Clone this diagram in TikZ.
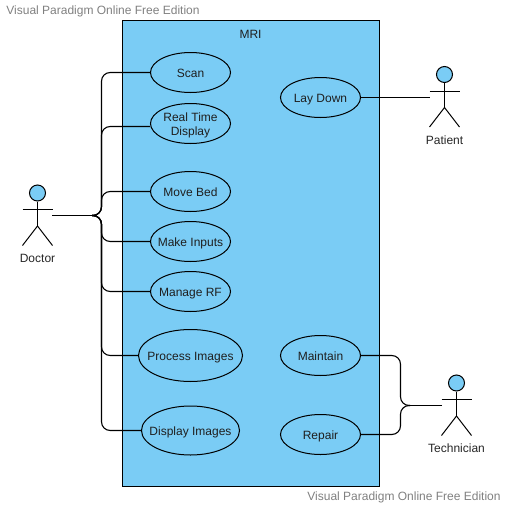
\documentclass[tikz,border=0pt]{standalone}
\usepackage{fontspec}
\setmainfont{Liberation Sans}
\usetikzlibrary{shapes.geometric}
\definecolor{skyfill}{HTML}{7ACCF5}
\definecolor{markgray}{HTML}{808080}
\newcommand{\uc}[1]{\raisebox{-3.6pt}[0pt][0pt]{\makebox[0pt][c]{#1}}}
\tikzset{
  usecase/.style={draw=black,fill=skyfill,ellipse,line width=0.75pt,inner sep=0pt,
    minimum width=80*0.75pt,minimum height=40*0.75pt,align=center,font=\fontsize{9}{10.9}\selectfont,text=black!88},
  bigcase/.style={usecase,minimum width=#1*0.75pt},
  system/.style={draw=black,fill=skyfill,line width=0.75pt},
  limb/.style={draw=black,line width=0.75pt},
  head/.style={circle,draw=black,fill=skyfill,line width=0.75pt,minimum size=16*0.75pt,inner sep=0pt},
  actorname/.style={font=\fontsize{9}{11}\selectfont,text=black!85,inner sep=0pt},
  watermark/.style={font=\fontsize{9}{11}\selectfont,text=markgray,inner sep=0pt},
  assoc/.style={draw=black,line width=0.85pt,rounded corners=6.5pt},
}
% name, x, head centre y, label y, label
\newcommand{\stickman}[5]{%
  \node[head] (#1) at (#2,#3) {};
  \coordinate (#1hip) at (#2,#3+33);
  \draw[limb] (#1.south) -- (#1hip);
  \draw[limb] (#2-15,#3+16.5) -- (#2+15,#3+16.5);
  \draw[limb] (#2-15,#3+52.5) -- (#1hip) -- (#2+15,#3+52.5);
  \node[actorname] (#1name) at (#2,#4) {#5};
}
\begin{document}
\begin{tikzpicture}[x=0.75pt,y=-0.75pt]
\useasboundingbox (0,0) rectangle (506,507);
\node[system,minimum width=257*0.75pt,minimum height=466*0.75pt,inner sep=0pt] (mri) at (251,253.5) {};
\node[actorname,text=black!88] (mriname) at (250.5,34) {MRI};
\node[watermark] (wmtop) at (103,11.5) {Visual Paradigm Online Free Edition};
\node[watermark] (wmbottom) at (404,497.5) {Visual Paradigm Online Free Edition};

\node[usecase] (scan) at (190.5,72.5) {\uc{Scan}};
\node[usecase] (rtd) at (190.5,123.5) {\uc{Real Time}\\\uc{Display}};
\node[usecase] (bed) at (190.5,191.5) {\uc{Move Bed}};
\node[usecase] (inputs) at (190.5,241.5) {\uc{Make Inputs}};
\node[usecase] (rf) at (190.5,291.5) {\uc{Manage RF}};
\node[bigcase=104,minimum height=52*0.75pt] (process) at (190.5,355.5) {\uc{Process Images}};
\node[bigcase=98,minimum height=49*0.75pt] (display) at (190.5,430.5) {\uc{Display Images}};
\node[usecase] (lay) at (320.5,97.5) {\uc{Lay Down}};
\node[usecase] (maintain) at (320.5,355.5) {\uc{Maintain}};
\node[usecase] (repair) at (320.5,434.5) {\uc{Repair}};

\stickman{doctor}{37.5}{193}{258.5}{Doctor}
\stickman{patient}{444.5}{74.5}{140.5}{Patient}
\stickman{tech}{456.5}{383}{448.5}{Technician}

\coordinate (doctorend) at (52,215.5);
\coordinate (doctorfork) at (92,215.5);
\coordinate (patientend) at (430,97.5);
\coordinate (techend) at (442,405.5);
\coordinate (techfork) at (410,405.5);

\draw[assoc] (doctorend) -- (doctorfork);
\foreach \t/\y in {scan/72.5,rtd/126.5,bed/191.5,inputs/241.5,rf/291.5,process/355.5,display/430.5}
  \draw[assoc] (doctorfork) -- (101.5,215.5) -- (101.5,\y) -- (\t.west |- 0,\y);
\draw[assoc] (lay.east) -- (patientend);
\draw[assoc] (techend) -- (techfork);
\draw[assoc] (maintain.east) -- (400.5,355.5) -- (400.5,405.5) -- (techfork);
\draw[assoc] (repair.east) -- (400.5,434.5) -- (400.5,405.5) -- (techfork);
\end{tikzpicture}
\end{document}
